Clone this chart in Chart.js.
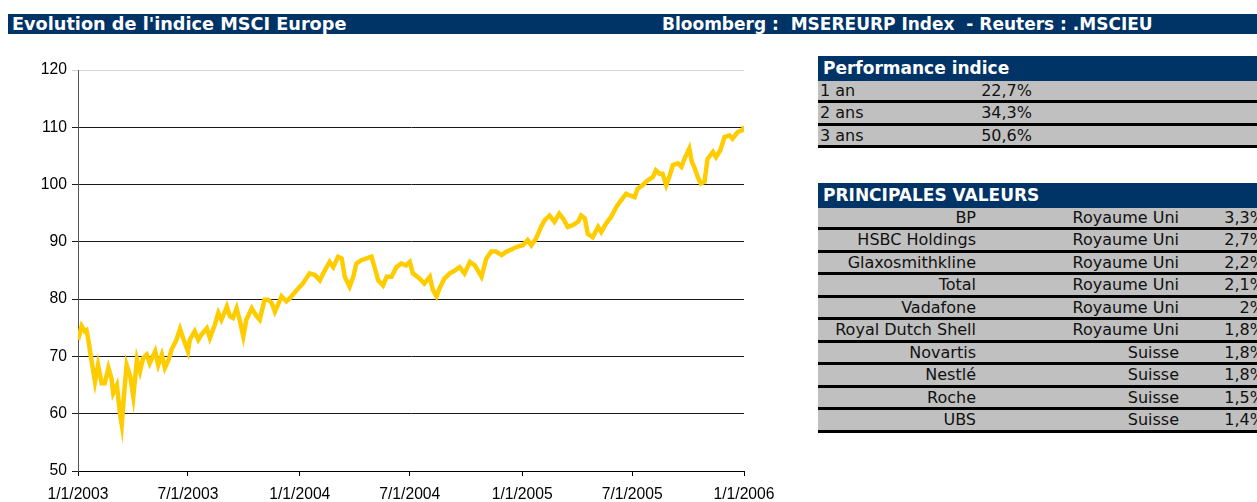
<!DOCTYPE html>
<html>
<head>
<meta charset="utf-8">
<script src="https://cdn.jsdelivr.net/npm/chart.js@4/dist/chart.umd.min.js"></script>
<style>
body{margin:0;width:1257px;height:502px;overflow:hidden;background:#fff;position:relative;font-family:"DejaVu Sans",sans-serif}
.bar{position:absolute;left:8px;width:1249px;top:14px;height:20px;background:#003366;color:#fff;font-weight:bold;font-size:17px;line-height:20px;white-space:pre;z-index:2}
.bar span{position:absolute;top:0}
.tbl{position:absolute;left:818px;width:447px;z-index:2}
.hd{height:24.5px;background:#003366;color:#fff;font-weight:bold;font-size:17px;line-height:24.5px;padding-left:5px}
.row{position:relative;height:22.5px;box-sizing:border-box;background:#c0c0c0;border-bottom:3px solid #000;font-size:16px;line-height:19.5px;color:#111}
.row span{position:absolute;top:0;white-space:nowrap}
#wrap{position:absolute;left:0;top:0;width:790px;height:502px}
</style>
</head>
<body>
<div class="bar"><span style="left:4px;font-size:17.7px">Evolution de l'indice MSCI Europe</span><span style="left:654px">Bloomberg :  MSEREURP Index  - Reuters : .MSCIEU</span></div>

<div class="tbl" style="top:56px" id="perf"><div class="hd">Performance indice</div></div>
<div class="tbl" style="top:183px" id="vals"><div class="hd">PRINCIPALES VALEURS</div></div>

<div id="wrap"><canvas id="chart" width="790" height="502"></canvas></div>

<script>
// days since 1/1/2003 and index level
const days = [0,6,11,14,17,22,28,33,39,44,50,55,58,64,69,72,75,80,86,91,97,102,107,113,118,127,132,138,143,149,154,162,168,173,181,184,192,198,203,212,217,225,231,236,245,250,255,261,266,272,277,286,294,299,307,313,319,324,329,335,343,349,360,370,381,390,398,406,414,420,428,434,439,447,453,458,466,475,483,488,494,502,508,516,524,532,540,546,551,562,570,579,584,590,595,603,612,620,628,636,645,653,664,672,680,688,697,705,710,721,732,740,746,754,762,768,776,784,792,798,806,814,823,828,834,839,847,856,861,869,877,886,894,902,908,916,921,929,938,946,951,957,962,968,973,979,987,993,998,1006,1010,1014,1020,1025,1031,1036,1045,1050,1057,1064,1072,1077,1086,1094,1096];
const values = [72.9,75.3,74.4,74.6,72.9,69.4,65.6,68.5,65.3,65.3,68,66.2,63.6,65,60.1,58.1,62.4,68.5,66.5,63,69.4,67.4,69.7,70.3,68.8,70.9,68.5,70.3,68,69.4,71.2,72.9,74.8,73.2,70.9,72.9,74.4,72.9,73.8,74.9,73.2,75.5,77.6,76.4,78.7,77,76.7,78.4,76.4,73.5,76.4,78.4,77,76.4,79.9,79.9,79.3,77.8,79,80.5,79.6,80.2,81.6,82.7,84.5,84.2,83.3,85,86.5,85.6,87.4,87.1,83.9,82.2,83.9,86.2,86.8,87.1,87.4,85.6,83.3,82.4,83.9,83.9,85.6,86.2,85.9,86.5,84.5,83.6,82.7,83.9,81.6,80.5,81.9,83.6,84.5,85,85.6,84.5,86.5,85.9,83.9,87.1,88.3,88.3,87.7,88.3,88.5,89.1,89.4,90.3,89.4,90.6,92.6,93.8,94.6,93.5,94.9,94.1,92.6,92.9,93.5,94.6,94.1,91.4,90.8,92.6,91.7,93.2,94.3,96.1,97.3,98.4,98.1,97.8,99.3,99.9,100.8,101.3,102.5,101.9,101.9,99.9,101.3,103.4,103.7,103.1,104.5,106.3,104,103.1,101.3,100.2,100.5,104.5,105.7,104.8,106,108.3,108.6,108,109.2,109.5,110.2];

const tickDays = [0,181,365,546,731,912,1096];
const tickLabels = ['1/1/2003','7/1/2003','1/1/2004','7/1/2004','1/1/2005','7/1/2005','1/1/2006'];

const perfLabels = ['1 an','2 ans','3 ans'];
const perfValues = ['22,7%','34,3%','50,6%'];

const stockNames = ['BP','HSBC Holdings','Glaxosmithkline','Total','Vadafone','Royal Dutch Shell','Novartis','Nestlé','Roche','UBS'];
const stockCountries = ['Royaume Uni','Royaume Uni','Royaume Uni','Royaume Uni','Royaume Uni','Royaume Uni','Suisse','Suisse','Suisse','Suisse'];
const stockWeights = ['3,3%','2,7%','2,2%','2,1%','2%','1,8%','1,8%','1,8%','1,5%','1,4%'];

// tables
const perf = document.getElementById('perf');
perfLabels.forEach((l, i) => {
    const r = document.createElement('div');
    r.className = 'row';
    r.innerHTML = '<span style="left:2px">' + l + '</span><span style="right:233px">' + perfValues[i] + '</span>';
    perf.appendChild(r);
});
const vals = document.getElementById('vals');
stockNames.forEach((n, i) => {
    const r = document.createElement('div');
    r.className = 'row';
    r.innerHTML = '<span style="right:289px">' + n + '</span><span style="right:86px">' + stockCountries[i] + '</span><span style="right:0">' + stockWeights[i] + '</span>';
    vals.appendChild(r);
});

const tickFont = {family: 'Liberation Sans, Arial', size: 15.7};

new Chart(document.getElementById('chart'), {
    type: 'line',
    data: {
        datasets: [{
            data: days.map((d, i) => ({x: d, y: values[i]})),
            borderColor: '#FFCC00',
            borderWidth: 4.5,
            pointRadius: 0,
            tension: 0,
            fill: false
        }]
    },
    options: {
        responsive: false,
        animation: false,
        devicePixelRatio: 1,
        layout: {padding: {left: 0, top: 70, right: 46, bottom: 0}},
        plugins: {legend: {display: false}, tooltip: {enabled: false}},
        scales: {
            x: {
                type: 'linear',
                min: 0,
                max: 1096,
                afterBuildTicks: s => { s.ticks = tickDays.map(v => ({value: v})); },
                afterFit: s => { s.height = 31; },
                ticks: {
                    autoSkip: false,
                    maxRotation: 0,
                    padding: 9,
                    color: '#000',
                    font: tickFont,
                    callback: v => tickLabels[tickDays.indexOf(v)]
                },
                grid: {drawOnChartArea: false, tickLength: 5, color: '#000'},
                border: {color: '#000'}
            },
            y: {
                min: 50,
                max: 120,
                afterFit: s => { s.width = 78; },
                ticks: {stepSize: 10, padding: 5, color: '#000', font: tickFont},
                grid: {
                    tickLength: 6,
                    color: c => (c.tick && c.tick.value === 120) ? '#d4d4d4' : '#1a1a1a'
                },
                border: {color: '#555'}
            }
        }
    }
});
</script>
</body>
</html>
